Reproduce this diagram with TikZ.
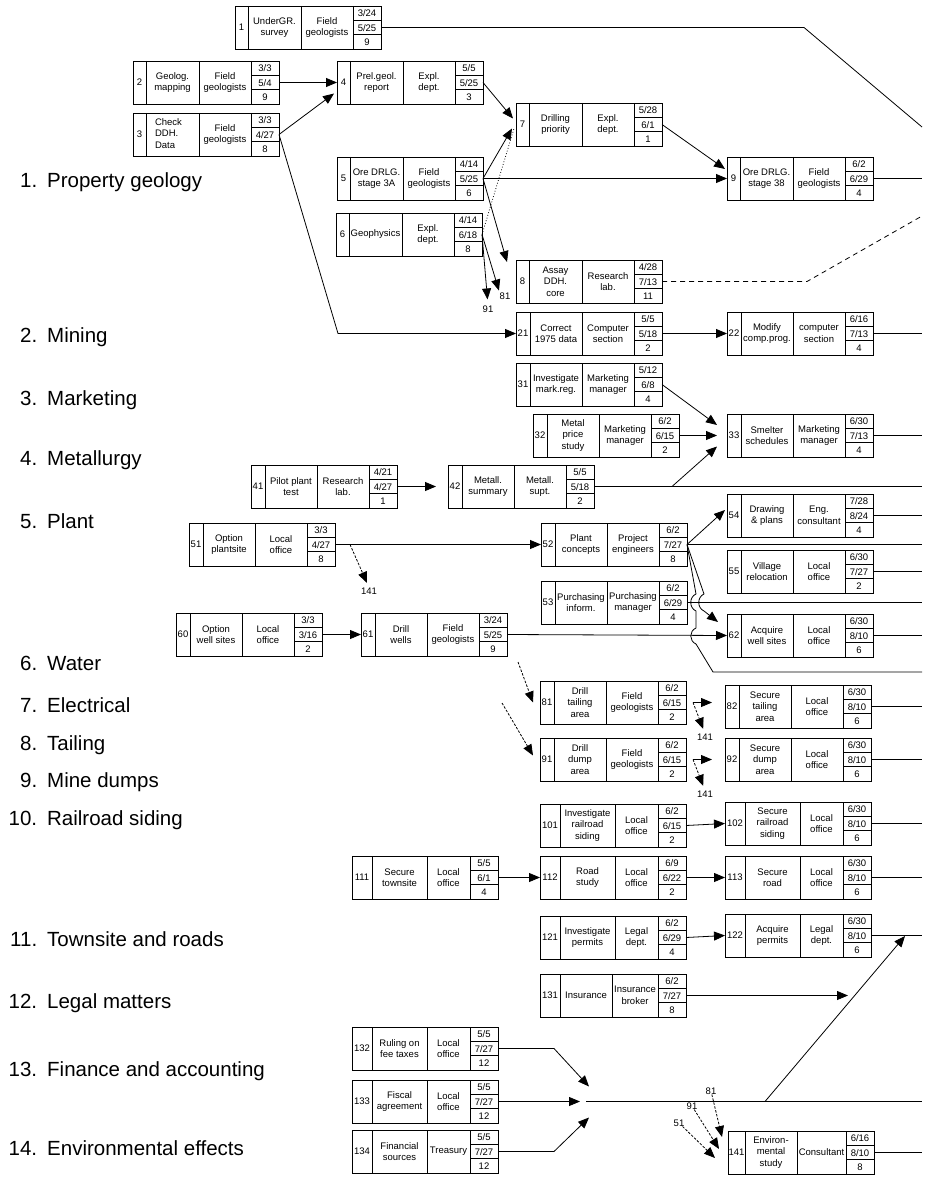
\documentclass[tikz,border=0pt]{standalone}
\usepackage{fontspec}
\setmainfont{Liberation Sans}
\usetikzlibrary{arrows.meta,calc}

\tikzset{
  actframe/.style={draw, line width=0.8pt, minimum width=146pt, minimum height=43pt,
    inner sep=0pt, outer sep=0pt, anchor=north west},
  cell/.style={line width=0.8pt},
  boxtxt/.style={font=\fontsize{9.5}{11.5}\selectfont, align=center, inner sep=0pt},
  tag/.style={font=\fontsize{9.5}{11.5}\selectfont, inner sep=0pt},
  area/.style={font=\fontsize{20.5}{24}\selectfont, anchor=base west, inner sep=0pt},
  link/.style={line width=0.8pt},
  flow/.style={link, -{Triangle[length=11pt,width=9pt]}},
  later/.style={link, dash pattern=on 5pt off 4pt},
  hint/.style={link, dash pattern=on 2.5pt off 1.5pt, -{Triangle[length=11pt,width=9pt]}},
  dots/.style={link, dotted}
}

% activity box: [num col/desc col]{name}{x,y}{no}{what}{who}{start}{end}{weeks}
\def\splitcols#1/#2\relax{\def\colnum{#1}\def\coldesc{#2}}
\newcommand\actbox[9][14/52]{%
  \splitcols#1\relax
  \begin{scope}[shift={(#3)}]
    \node[actframe] (#2) at (0,0) {};
    \draw[cell] (\colnum,0) -- (\colnum,43)
      (\colnum+\coldesc,0) -- (\colnum+\coldesc,43)
      (118,0) -- (118,43)
      (118,14.3) -- (146,14.3)
      (118,28.7) -- (146,28.7);
    \node[boxtxt] (#2-no) at (\colnum/2,21.5) {#4};
    \node[boxtxt] (#2-what) at (\colnum+\coldesc/2,21.5) {#5};
    \node[boxtxt] (#2-who) at ({(\colnum+\coldesc+118)/2},21.5) {#6};
    \node[boxtxt] (#2-start) at (132,7.4) {#7};
    \node[boxtxt] (#2-end) at (132,21.7) {#8};
    \node[boxtxt] (#2-wk) at (132,36) {#9};
  \end{scope}}

\begin{document}
\begin{tikzpicture}[x=1pt, y=-1pt]
  \useasboundingbox (0,0) rectangle (925,1177);

  % Areas
  \node[area] (g1) at (10,187) {\makebox[27pt][r]{1.}\hspace{10pt}Property geology};
  \node[area] (g2) at (10,342) {\makebox[27pt][r]{2.}\hspace{10pt}Mining};
  \node[area] (g3) at (10,405) {\makebox[27pt][r]{3.}\hspace{10pt}Marketing};
  \node[area] (g4) at (10,465) {\makebox[27pt][r]{4.}\hspace{10pt}Metallurgy};
  \node[area] (g5) at (10,528) {\makebox[27pt][r]{5.}\hspace{10pt}Plant};
  \node[area] (g6) at (10,670) {\makebox[27pt][r]{6.}\hspace{10pt}Water};
  \node[area] (g7) at (10,712) {\makebox[27pt][r]{7.}\hspace{10pt}Electrical};
  \node[area] (g8) at (10,750) {\makebox[27pt][r]{8.}\hspace{10pt}Tailing};
  \node[area] (g9) at (10,787) {\makebox[27pt][r]{9.}\hspace{10pt}Mine dumps};
  \node[area] (g10) at (10,825) {\makebox[27pt][r]{10.}\hspace{10pt}Railroad siding};
  \node[area] (g11) at (10,946) {\makebox[27pt][r]{11.}\hspace{10pt}Townsite and roads};
  \node[area] (g12) at (10,1008) {\makebox[27pt][r]{12.}\hspace{10pt}Legal matters};
  \node[area] (g13) at (10,1076) {\makebox[27pt][r]{13.}\hspace{10pt}Finance and accounting};
  \node[area] (g14) at (10,1155) {\makebox[27pt][r]{14.}\hspace{10pt}Environmental effects};

  % Activities
  \actbox[13/53]{a1}{235,6}{1}{UnderGR.\\survey}{Field\\geologists}{3/24}{5/25}{9}
  \actbox[13/53]{a2}{133,61}{2}{Geolog.\\mapping}{Field\\geologists}{3/3}{5/4}{9}
  \actbox[13/53]{a3}{133,113}{3}{\begin{tabular}{@{}l@{}}Check\\DDH.\\Data\end{tabular}\hspace{8pt}}{Field\\geologists}{3/3}{4/27}{8}
  \actbox[13/53]{a4}{337,61}{4}{Prel.geol.\\report}{Expl.\\dept.}{5/5}{5/25}{3}
  \actbox[13/53]{a5}{337,157}{5}{Ore DRLG.\\stage 3A}{Field\\geologists}{4/14}{5/25}{6}
  \actbox[13/53]{a6}{336,213}{6}{Geophysics}{Expl.\\dept.}{4/14}{6/18}{8}
  \actbox[13/53]{a7}{516,103}{7}{Drilling\\priority}{Expl.\\dept.}{5/28}{6/1}{1}
  \actbox[13/53]{a8}{516,260}{8}{Assay\\DDH.\\core}{Research\\lab.}{4/28}{7/13}{11}
  \actbox[13/53]{a9}{727,157}{9}{Ore DRLG.\\stage 38}{Field\\geologists}{6/2}{6/29}{4}
  \actbox{a21}{516,312}{21}{Correct\\1975 data}{Computer\\section}{5/5}{5/18}{2}
  \actbox{a22}{727,312}{22}{Modify\\comp.prog.}{computer\\section}{6/16}{7/13}{4}
  \actbox{a31}{516,363}{31}{Investigate\\mark.reg.}{Marketing\\manager}{5/12}{6/8}{4}
  \actbox{a32}{533,414}{32}{Metal\\price\\study}{Marketing\\manager}{6/2}{6/15}{2}
  \actbox{a33}{727,414}{33}{Smelter\\schedules}{Marketing\\manager}{6/30}{7/13}{4}
  \actbox{a41}{251,465}{41}{Pilot plant\\test}{Research\\lab.}{4/21}{4/27}{1}
  \actbox{a42}{448,465}{42}{Metall.\\summary}{Metall.\\supt.}{5/5}{5/18}{2}
  \actbox{a51}{189,523}{51}{Option\\plantsite}{Local\\office}{3/3}{4/27}{8}
  \actbox{a52}{541,523}{52}{Plant\\concepts}{Project\\engineers}{6/2}{7/27}{8}
  \actbox{a53}{541,581}{53}{Purchasing\\inform.}{Purchasing\\manager}{6/2}{6/29}{4}
  \actbox{a54}{727,494}{54}{Drawing\\\& plans}{Eng.\\consultant}{7/28}{8/24}{4}
  \actbox{a55}{727,550}{55}{Village\\relocation}{Local\\office}{6/30}{7/27}{2}
  \actbox{a60}{176,613}{60}{Option\\well sites}{Local\\office}{3/3}{3/16}{2}
  \actbox{a61}{361,613}{61}{Drill\\wells}{Field\\geologists}{3/24}{5/25}{9}
  \actbox{a62}{727,614}{62}{Acquire\\well sites}{Local\\office}{6/30}{8/10}{6}
  \actbox{a81}{540,681}{81}{Drill\\tailing\\area}{Field\\geologists}{6/2}{6/15}{2}
  \actbox{a82}{725,685}{82}{Secure\\tailing\\area}{Local\\office}{6/30}{8/10}{6}
  \actbox{a91}{540,738}{91}{Drill\\dump\\area}{Field\\geologists}{6/2}{6/15}{2}
  \actbox{a92}{725,738}{92}{Secure\\dump\\area}{Local\\office}{6/30}{8/10}{6}
  \actbox[20/55]{a101}{540,804}{101}{Investigate\\railroad\\siding}{Local\\office}{6/2}{6/15}{2}
  \actbox[20/55]{a102}{725,802}{102}{Secure\\railroad\\siding}{Local\\office}{6/30}{8/10}{6}
  \actbox[20/55]{a111}{352,856}{111}{Secure\\townsite}{Local\\office}{5/5}{6/1}{4}
  \actbox[20/55]{a112}{540,856}{112}{Road\\study}{Local\\office}{6/9}{6/22}{2}
  \actbox[20/55]{a113}{725,856}{113}{Secure\\road}{Local\\office}{6/30}{8/10}{6}
  \actbox[20/55]{a121}{540,916}{121}{Investigate\\permits}{Legal\\dept.}{6/2}{6/29}{4}
  \actbox[20/55]{a122}{725,914}{122}{Acquire\\permits}{Legal\\dept.}{6/30}{8/10}{6}
  \actbox[20/52]{a131}{540,974}{131}{Insurance}{Insurance\\broker}{6/2}{7/27}{8}
  \actbox[20/55]{a132}{352,1027}{132}{Ruling on\\fee taxes}{Local\\office}{5/5}{7/27}{12}
  \actbox[20/55]{a133}{352,1080}{133}{Fiscal\\agreement}{Local\\office}{5/5}{7/27}{12}
  \actbox[20/55]{a134}{352,1130}{134}{Financial\\sources}{Treasury}{5/5}{7/27}{12}
  \actbox[17/52]{a141}{728,1131}{141}{Environ-\\mental\\study}{Consultant}{6/16}{8/10}{8}

  % Loose ends at the right margin
  \coordinate (r1) at (922,127);
  \coordinate (r8) at (922,216);
  \coordinate (r9) at (922,178.5);
  \coordinate (r22) at (922,333.5);
  \coordinate (r33) at (922,435.5);
  \coordinate (r42) at (922,486.5);
  \coordinate (r54) at (922,515.5);
  \coordinate (r52) at (922,544.5);
  \coordinate (r55) at (922,571.5);
  \coordinate (r53) at (922,602.5);
  \coordinate (r62) at (922,635.5);
  \coordinate (r52b) at (922,672);
  \coordinate (r82) at (922,706.5);
  \coordinate (r92) at (922,759.5);
  \coordinate (r102) at (922,823.5);
  \coordinate (r113) at (922,877.5);
  \coordinate (r122) at (922,935.5);
  \coordinate (r13) at (922,1101.5);
  \coordinate (r141) at (922,1152.5);

  % Property geology
  \draw[link] (a1.east) -- (804,27.5) -- (r1);
  \draw[flow] (a2.east) -- (a4.west);
  \draw[flow] (a3.east) -- ($(a4.west)+(-3,11)$);
  \draw[flow] (a3.east) -- (338,333.5) -- (a21.west);
  \draw[flow] (a4.east) -- ($(a7.west)+(-3,-6)$);
  \draw[flow] (a5.east) -- ($(a7.west)+(-4,4)$);
  \draw[dots] (a6.east) -- ($(a7.west)+(-2,4)$);
  \draw[flow] (a5.east) -- (a9.west);
  \draw[flow] (a5.east) -- ($(a8.north west)+(-9,2)$);
  \node[tag] (x81) at (505,296) {81};
  \node[tag] (x91) at (488,309) {91};
  \draw[flow, shorten >=2pt] (a6.east) -- (x81.north west);
  \draw[flow, shorten >=6pt] (a6.east) -- (x91.north);
  \draw[flow] (a7.east) -- ($(a9.west)+(-2,-9.5)$);
  \draw[later] (a8.east) -- (807,281.5) -- (r8);
  \draw[link] (a9.east) -- (r9);

  % Mining
  \draw[flow] (a21.east) -- (a22.west);
  \draw[link] (a22.east) -- (r22);

  % Marketing, metallurgy
  \draw[flow] (a31.east) -- ($(a33.west)+(-10,-10.5)$);
  \draw[flow] (a32.east) -- ($(a33.west)+(-10,0)$);
  \draw[flow] (672,486.5) -- ($(a33.west)+(-10,11)$);
  \draw[link] (a33.east) -- (r33);
  \draw[flow] (a41.east) -- ($(a42.west)+(-12,0)$);
  \draw[link] (a42.east) -- (r42);

  % Plant
  \draw[flow] (a51.east) -- (a52.west);
  \node[tag] (p141) at (369,591) {141};
  \draw[hint, shorten >=5pt] ($(a51.east)+(15,0)$) -- (p141.north);
  \draw[flow] (a52.east) -- ($(a54.west)+(-2,-5.5)$);
  \draw[link] (a52.east) -- (r52);
  \draw[flow] (a52.east) -- (704,594) .. controls (697,597) and (697,608) .. (704,611)
    -- ($(a62.north west)+(-9,8)$);
  \draw[link] (a52.east) -- (696,594) .. controls (689,597) and (689,608) .. (696,611)
    -- (696,628) .. controls (689,631) and (689,641) .. (696,644) -- (713,672) -- (r52b);
  \draw[link] (a53.east) -- (r53);
  \draw[link] (a54.east) -- (r54);
  \draw[link] (a55.east) -- (r55);

  % Water
  \draw[flow] (a60.east) -- (a61.west);
  \draw[flow] (a61.east) -- (a62.west);
  \draw[link] (a62.east) -- (r62);

  % Tailing, dumps
  \coordinate (in81) at (518,662);
  \coordinate (in91) at (502,703);
  \draw[hint] (in81) -- ($(a81.west)+(-7,0)$);
  \draw[hint] (in91) -- ($(a91.west)+(-7,-4)$);
  \coordinate (s81) at ($(a81.east)+(7,0)$);
  \coordinate (s91) at ($(a91.east)+(7,0)$);
  \node[tag] (t81) at (705,737) {141};
  \node[tag] (t91) at (705,794) {141};
  \draw[flow] (s81) -- ($(a82.west)+(-13,-4)$);
  \draw[hint, shorten >=5pt] (s81) -- (t81.north);
  \draw[flow] (s91) -- ($(a92.west)+(-13,0)$);
  \draw[hint, shorten >=5pt] (s91) -- (t91.north);
  \draw[link] (a82.east) -- (r82);
  \draw[link] (a92.east) -- (r92);

  % Railroad, townsite, legal
  \draw[flow] (a101.east) -- (a102.west);
  \draw[link] (a102.east) -- (r102);
  \draw[flow] (a111.east) -- (a112.west);
  \draw[flow] (a112.east) -- (a113.west);
  \draw[link] (a113.east) -- (r113);
  \draw[flow] (a121.east) -- (a122.west);
  \draw[link] (a122.east) -- (r122);
  \coordinate (t131) at (848,995.5);
  \draw[flow] (a131.east) -- (t131);

  % Finance
  \coordinate (fin) at (586,1101.5);
  \coordinate (fin2) at (765,1101.5);
  \coordinate (t122) at (905,936);
  \draw[flow] (a132.east) -- (554,1048.5) -- ($(fin)+(3,-15)$);
  \draw[flow] (a133.east) -- ($(fin)+(-6,0)$);
  \draw[flow] (a134.east) -- (554,1151.5) -- ($(fin)+(3,16)$);
  \draw[link] (fin) -- (r13);
  \draw[flow] (fin2) -- (t122);

  % Environment
  \node[tag] (y81) at ($(a141.north west)+(-17,-40)$) {81};
  \node[tag] (y91) at ($(a141.north west)+(-36,-25)$) {91};
  \node[tag] (y51) at ($(a141.north west)+(-49,-8)$) {51};
  \draw[hint] (y81) -- ($(a141.north west)+(-6,6)$);
  \draw[hint] (y91) -- ($(a141.north west)+(-9,18)$);
  \draw[hint] (y51) -- ($(a141.north west)+(-13,27)$);
  \draw[link] (a141.east) -- (r141);
\end{tikzpicture}
\end{document}
